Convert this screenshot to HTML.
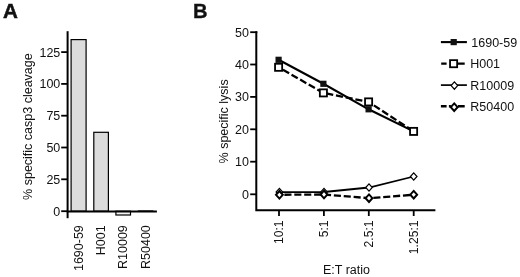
<!DOCTYPE html>
<html><head><meta charset="utf-8">
<style>
html,body{margin:0;padding:0;background:#fff;}
svg{display:block;filter:grayscale(1);}
text{font-family:"Liberation Sans",sans-serif;fill:#111;}
</style></head>
<body>
<svg width="520" height="277" viewBox="0 0 520 277">
<rect width="520" height="277" fill="#fff"/>
<!-- Panel A -->
<text x="2.9" y="17.7" font-size="20.6" font-weight="bold" stroke="#111" stroke-width="0.5">A</text>
<g stroke="#000" fill="#dcdcdc" stroke-width="1.2">
<rect x="71.1" y="39.6" width="15.0" height="171.6"/>
<rect x="93.8" y="132.3" width="14.6" height="78.9"/>
<rect x="115.9" y="211.2" width="14.6" height="3.8" fill="#f4f4f4"/>
<rect x="138.3" y="210.9" width="14.6" height="0.4" stroke-width="1"/>
</g>
<g stroke="#000" stroke-width="2" fill="none">
<line x1="67.6" y1="31.2" x2="67.6" y2="218.2"/>
<line x1="66.7" y1="211.6" x2="156.9" y2="211.6"/>
</g>
<g stroke="#000" stroke-width="1.8">
<line x1="61.2" y1="52.1" x2="67" y2="52.1"/>
<line x1="61.2" y1="83.9" x2="67" y2="83.9"/>
<line x1="61.2" y1="115.7" x2="67" y2="115.7"/>
<line x1="61.2" y1="147.5" x2="67" y2="147.5"/>
<line x1="61.2" y1="179.3" x2="67" y2="179.3"/>
<line x1="61.2" y1="211.2" x2="67" y2="211.2"/>
</g>
<g font-size="12.5" text-anchor="end">
<text x="60.3" y="56.5">125</text>
<text x="60.3" y="88.3">100</text>
<text x="60.3" y="120.1">75</text>
<text x="60.3" y="151.9">50</text>
<text x="60.3" y="183.7">25</text>
<text x="60.3" y="215.6">0</text>
</g>
<text font-size="12.5" text-anchor="middle" transform="translate(32.0,126.6) rotate(-90)">% specific casp3 cleavage</text>
<g font-size="12.5" text-anchor="end">
<text transform="translate(83.0,225.2) rotate(-90)">1690-59</text>
<text transform="translate(105.4,225.4) rotate(-90)">H001</text>
<text transform="translate(127.3,225.2) rotate(-90)">R10009</text>
<text transform="translate(150.2,225.2) rotate(-90)">R50400</text>
</g>

<!-- Panel B -->
<text x="193.1" y="17.6" font-size="20.2" font-weight="bold" stroke="#111" stroke-width="0.3">B</text>
<g stroke="#000" stroke-width="2" fill="none">
<polyline points="256.3,31.2 256.3,210.3 435.4,210.3"/>
</g>
<g stroke="#000" stroke-width="1.8">
<line x1="250.2" y1="32.2" x2="257.3" y2="32.2"/>
<line x1="250.2" y1="64.5" x2="256" y2="64.5"/>
<line x1="250.2" y1="96.9" x2="256" y2="96.9"/>
<line x1="250.2" y1="129.3" x2="256" y2="129.3"/>
<line x1="250.2" y1="161.7" x2="256" y2="161.7"/>
<line x1="250.2" y1="194.3" x2="256" y2="194.3"/>
<line x1="279" y1="210.2" x2="279" y2="216.0"/>
<line x1="323.9" y1="210.2" x2="323.9" y2="216.0"/>
<line x1="368.8" y1="210.2" x2="368.8" y2="216.0"/>
<line x1="413.7" y1="210.2" x2="413.7" y2="216.0"/>
</g>
<g font-size="12.5" text-anchor="end">
<text x="249.0" y="36.6">50</text>
<text x="249.0" y="68.9">40</text>
<text x="249.0" y="101.3">30</text>
<text x="249.0" y="133.7">20</text>
<text x="249.0" y="166.1">10</text>
<text x="249.0" y="198.7">0</text>
</g>
<text font-size="12.5" text-anchor="middle" transform="translate(227.8,121.4) rotate(-90)">% specific lysis</text>
<g font-size="12.1" text-anchor="end">
<text transform="translate(283.3,220.5) rotate(-90)">10:1</text>
<text transform="translate(328.2,220.5) rotate(-90)">5:1</text>
<text transform="translate(373.1,220.5) rotate(-90)">2.5:1</text>
<text transform="translate(418.0,220.5) rotate(-90)">1.25:1</text>
</g>
<text x="346.5" y="273.8" font-size="12.5" text-anchor="middle">E:T ratio</text>
<!-- series -->
<g stroke="#000" fill="none">
<polyline stroke-width="1.8" points="279.4,192.1 324.0,192.0 369.0,187.5 413.7,176.5"/>
<polyline stroke-width="2.3" stroke-dasharray="7.1,2.8" stroke-dashoffset="4.9" points="279.4,194.8 324.0,194.5 369.0,198.2 413.7,194.7"/>
<polyline stroke-width="2.1" points="278.6,59.8 323.4,83.8 368.6,109.3 413.6,131.4"/>
<polyline stroke-width="2.3" stroke-dasharray="7.1,2.8" stroke-dashoffset="4.9" points="278.6,67.3 323.4,92.9 368.6,101.9 413.6,131.4"/>
</g>
<g stroke="#000" stroke-width="1.2" fill="#fff">
<path d="M279.4,188.45 l3.3,3.65 -3.3,3.65 -3.3,-3.65z"/>
<path d="M324.0,188.35 l3.3,3.65 -3.3,3.65 -3.3,-3.65z"/>
<path d="M369.0,183.85 l3.3,3.65 -3.3,3.65 -3.3,-3.65z"/>
<path d="M413.7,172.85 l3.3,3.65 -3.3,3.65 -3.3,-3.65z"/>
</g>
<g stroke="#000" stroke-width="2" fill="#fff">
<path d="M279.4,191.00 l3.4,3.8 -3.4,3.8 -3.4,-3.8z"/>
<path d="M324.0,190.70 l3.4,3.8 -3.4,3.8 -3.4,-3.8z"/>
<path d="M369.0,194.40 l3.4,3.8 -3.4,3.8 -3.4,-3.8z"/>
<path d="M413.7,190.90 l3.4,3.8 -3.4,3.8 -3.4,-3.8z"/>
</g>
<g fill="#111">
<rect x="275.50" y="56.70" width="6.2" height="6.2"/>
<rect x="320.30" y="80.70" width="6.2" height="6.2"/>
<rect x="365.50" y="106.20" width="6.2" height="6.2"/>
<rect x="410.50" y="128.30" width="6.2" height="6.2"/>
</g>
<g stroke="#000" stroke-width="1.8" fill="#fff">
<rect x="275.05" y="63.75" width="7.1" height="7.1"/>
<rect x="319.85" y="89.35" width="7.1" height="7.1"/>
<rect x="365.05" y="98.35" width="7.1" height="7.1"/>
<rect x="410.05" y="127.85" width="7.1" height="7.1"/>
</g>

<!-- legend -->
<g stroke="#000" fill="none">
<line x1="440.9" y1="42.1" x2="466.9" y2="42.1" stroke-width="2.1"/>
<path d="M441.2,63.6 h5.4 M457.8,63.6 h6.9" stroke-width="2.4"/>
<line x1="440.9" y1="85.1" x2="466.9" y2="85.1" stroke-width="1.7"/>
<path d="M440.9,106.3 h5.7 M448.9,106.3 h2 M458,106.3 h6.7" stroke-width="2.4"/>
</g>
<rect x="450.6" y="39.0" width="6.2" height="6.2" fill="#111"/>
<rect x="450.05" y="60.15" width="7.1" height="7.1" fill="#fff" stroke="#000" stroke-width="1.8"/>
<g stroke="#000" stroke-width="1.2" fill="#fff"><path d="M454.4,81.95 l3.3,3.65 -3.3,3.65 -3.3,-3.65z"/></g>
<g stroke="#000" stroke-width="2" fill="#fff"><path d="M454.2,103.40 l3.4,3.8 -3.4,3.8 -3.4,-3.8z"/></g>
<g font-size="12.5">
<text x="471.3" y="46.7">1690-59</text>
<text x="470.2" y="68.4">H001</text>
<text x="470.3" y="89.8">R10009</text>
<text x="470.3" y="110.9">R50400</text>
</g>
</svg>
</body></html>
